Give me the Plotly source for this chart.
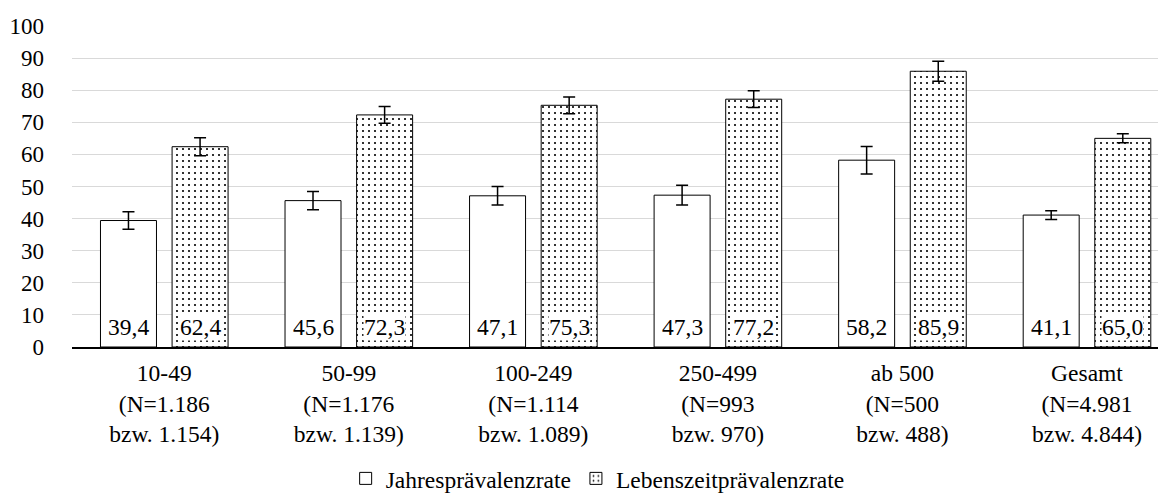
import plotly.graph_objects as go

categories = [
    "10-49<br>(N=1.186<br>bzw. 1.154)",
    "50-99<br>(N=1.176<br>bzw. 1.139)",
    "100-249<br>(N=1.114<br>bzw. 1.089)",
    "250-499<br>(N=993<br>bzw. 970)",
    "ab 500<br>(N=500<br>bzw. 488)",
    "Gesamt<br>(N=4.981<br>bzw. 4.844)",
]
jahres = [39.4, 45.6, 47.1, 47.3, 58.2, 41.1]
jahres_err = [2.75, 2.85, 2.9, 3.1, 4.3, 1.35]
leben = [62.4, 72.3, 75.3, 77.2, 85.9, 65.0]
leben_err = [2.8, 2.6, 2.6, 2.6, 3.1, 1.4]
y_ticks = [0, 10, 20, 30, 40, 50, 60, 70, 80, 90, 100]

FONT = "Liberation Serif"
W, H = 1166, 493
ML, MR = 64, 0
XRANGE = [-0.5, 5.4715]
BARGAP = 0.224

fig = go.Figure()
fig.add_trace(go.Bar(
    name="Jahresprävalenzrate",
    x=categories, y=jahres,
    marker=dict(color="white", line=dict(color="black", width=1)),
    error_y=dict(type="data", array=jahres_err, color="black", thickness=1.5, width=6),
))
fig.add_trace(go.Bar(
    name="Lebenszeitprävalenzrate",
    x=categories, y=leben,
    marker=dict(color="white", line=dict(color="black", width=1),
                pattern=dict(shape=".", fgcolor="black", bgcolor="white", size=6, solidity=0.1)),
    error_y=dict(type="data", array=leben_err, color="black", thickness=1.5, width=6),
))

# value labels at the bottom of each bar (pixel offset of each bar in its group)
cat_px = (W - ML - MR) / (XRANGE[1] - XRANGE[0])
off = cat_px * (1 - BARGAP) / 4
for series, sign, bg in ((jahres, -1, "rgba(0,0,0,0)"), (leben, 1, "white")):
    for cat, v in zip(categories, series):
        fig.add_annotation(
            x=cat, y=0, xref="x", yref="y", xshift=sign * off, yshift=20,
            yanchor="middle", xanchor="center", showarrow=False,
            text=f"{v:.1f}".replace(".", ","),
            font=dict(family=FONT, size=23.5, color="black"),
            bgcolor=bg, borderpad=0,
        )

fig.update_layout(
    template="none",
    width=W, height=H,
    margin=dict(l=ML, r=MR, t=18, b=146),
    paper_bgcolor="white", plot_bgcolor="white",
    font=dict(family=FONT, size=23.5, color="black"),
    separators=",.",
    barmode="group", bargap=BARGAP, bargroupgap=0.218,
    showlegend=True,
    legend=dict(orientation="h", x=0.477, xanchor="center", y=-0.41, yanchor="middle",
                font=dict(size=23.5, family=FONT), itemclick=False),
)
fig.update_xaxes(
    type="category", range=XRANGE,
    showline=True, linecolor="black", linewidth=2,
    showgrid=False, ticks="", ticklabelstandoff=4,
    tickfont=dict(size=23.5, family=FONT, color="black"),
)
fig.update_yaxes(
    range=[0, 100], tickvals=y_ticks,
    showgrid=True, gridcolor="#d9d9d9", gridwidth=1.3,
    zeroline=False, showline=False, ticks="",
    ticklabelstandoff=27, tickfont=dict(size=23, family=FONT, color="black"),
)

fig.write_html("out.html")
